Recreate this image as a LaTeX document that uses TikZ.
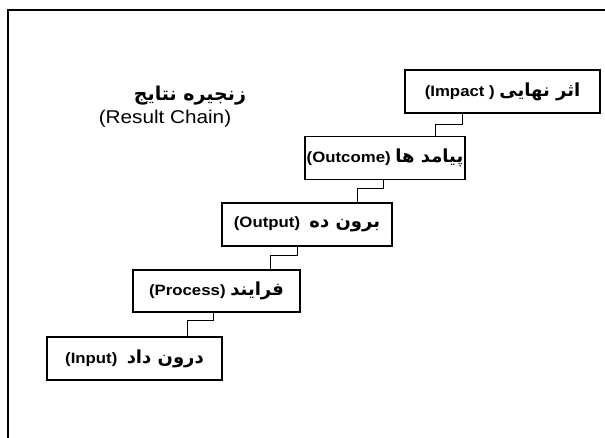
\documentclass[tikz,border=0pt]{standalone}
\usepackage{fontspec}
\setmainfont{Liberation Sans}[FakeStretch=1.12]
\newfontfamily\persianfont[Script=Arabic]{DejaVu Sans}
\TeXXeTstate=1
\usetikzlibrary{positioning}
\tikzset{stage/.style={draw=black,line width=1.4pt,fill=white,align=center,minimum height=43pt,inner xsep=0.5pt,inner ysep=2pt,font=\bfseries\fontsize{15}{17}\selectfont},link/.style={line width=1pt},frame/.style={line width=1.8pt}}
\newcommand{\fa}[1]{{\persianfont\bfseries\fontsize{18}{20}\selectfont\beginR #1\endR}}

\begin{document}
\begin{tikzpicture}[x=1pt,y=-1pt]
\useasboundingbox (0,0) rectangle (605,438);
\draw[frame] (8,438)--(8,10)--(605,10);
% title
\node (ttl) at (190,96) {{\persianfont\bfseries\fontsize{19}{22}\selectfont\beginR زنجیره نتایج\endR}};
\node[font=\fontsize{18.5}{20}\selectfont] (sub) at (165,119) {(Result Chain)};
% chain of stages
\node[stage,minimum width=195pt] (imp) at (502.5,91.5) {(Impact ) \fa{اثر نهایی}};
\node[stage,minimum width=160pt] (outc) at (385,158) {(Outcome) \fa{پیامد ها}};
\node[stage,minimum width=170pt] (outp) at (307,224.5) {(Output)\ \ \fa{برون ده}};
\node[stage,minimum width=167pt,minimum height=42pt] (proc) at (216.5,291) {(Process) \fa{فرایند}};
\node[stage,minimum width=175pt] (inp) at (134.5,358.5) {(Input)\ \ \fa{درون داد}};
\draw[link] ([xshift=-40.5pt]imp.south) -- ++(0,11) -| ([xshift=50pt]outc.north);
\draw[link] ([xshift=-2pt]outc.south) -- ++(0,8) -| ([xshift=50pt]outp.north);
\draw[link] ([xshift=-10pt]outp.south) -- ++(0,9) -| ([xshift=53.5pt]proc.north);
\draw[link] ([xshift=-3.5pt]proc.south) -- ++(0,8) -| ([xshift=52.5pt]inp.north);
\end{tikzpicture}
\end{document}
